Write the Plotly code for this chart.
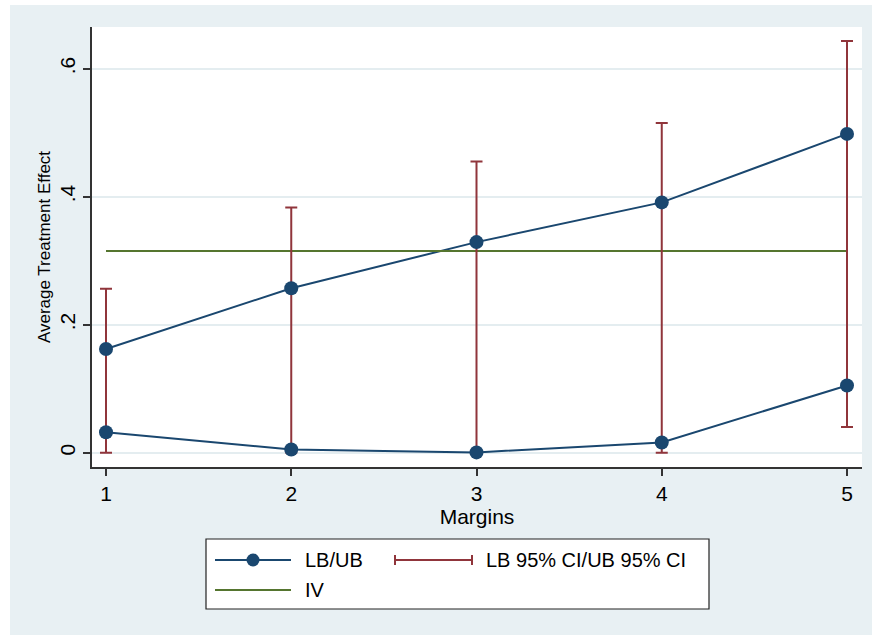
import plotly.graph_objects as go

# ---- data ----
margins = [1, 2, 3, 4, 5]
lb = [0.032, 0.005, 0.0005, 0.016, 0.105]
ub = [0.162, 0.257, 0.329, 0.391, 0.498]
ci_lo = [0.0, 0.0, 0.0, 0.0, 0.040]
ci_hi = [0.256, 0.383, 0.455, 0.515, 0.643]
iv_value = 0.315
y_tick_vals = [0, 0.2, 0.4, 0.6]
y_tick_text = ["0", ".2", ".4", ".6"]
x_tick_vals = [1, 2, 3, 4, 5]
legend_labels = ["LB/UB", "LB 95% CI/UB 95% CI", "IV"]

NAVY = "#1a476f"
MAROON = "#90353b"
GREEN = "#55752f"
BG = "#e8f0f3"
FONT = "Liberation Sans, Arial, sans-serif"

W, H = 872, 635
L, R, T, B = 92, 10, 27, 168
PW, PH = W - L - R, H - T - B


def px_x(px):
    return (px - L) / PW


def px_y(py):
    return (H - B - py) / PH


fig = go.Figure()

# LB / UB lines
for series in (ub, lb):
    fig.add_trace(go.Scatter(
        x=margins, y=series, mode="lines",
        line=dict(color=NAVY, width=2),
        showlegend=False, hoverinfo="skip"))

# IV horizontal line
fig.add_trace(go.Scatter(
    x=[margins[0], margins[-1]], y=[iv_value, iv_value], mode="lines",
    line=dict(color=GREEN, width=2), showlegend=False, hoverinfo="skip"))

# CI range caps
mid = [(a + b) / 2 for a, b in zip(ci_lo, ci_hi)]
half = [(b - a) / 2 for a, b in zip(ci_lo, ci_hi)]
fig.add_trace(go.Scatter(
    x=margins, y=mid, mode="markers",
    marker=dict(size=1, color="rgba(0,0,0,0)"),
    error_y=dict(type="data", array=half, symmetric=True,
                 color=MAROON, thickness=2, width=6),
    showlegend=False, hoverinfo="skip"))

# markers on top of CI lines
for series in (ub, lb):
    fig.add_trace(go.Scatter(
        x=margins, y=series, mode="markers",
        marker=dict(color=NAVY, size=14),
        showlegend=False, hoverinfo="skip"))

shapes = []
# white strips at top/left of the outer region
shapes.append(dict(type="rect", xref="paper", yref="paper",
                   x0=px_x(-5), x1=px_x(10), y0=px_y(-5), y1=px_y(H + 5),
                   fillcolor="white", line=dict(width=0), layer="below"))
shapes.append(dict(type="rect", xref="paper", yref="paper",
                   x0=px_x(-5), x1=px_x(W + 5), y0=px_y(5), y1=px_y(-5),
                   fillcolor="white", line=dict(width=0), layer="below"))

# manual legend
shapes.append(dict(type="rect", xref="paper", yref="paper",
                   x0=px_x(206), x1=px_x(709), y0=px_y(609), y1=px_y(539),
                   fillcolor="white", line=dict(color="#222222", width=1.2)))
r1, r2 = 560, 590
shapes.append(dict(type="line", xref="paper", yref="paper",
                   x0=px_x(215), x1=px_x(291), y0=px_y(r1), y1=px_y(r1),
                   line=dict(color=NAVY, width=2)))
shapes.append(dict(type="circle", xref="paper", yref="paper",
                   x0=px_x(246.5), x1=px_x(259.5), y0=px_y(r1 + 6.5), y1=px_y(r1 - 6.5),
                   fillcolor=NAVY, line=dict(color=NAVY, width=0)))
shapes.append(dict(type="line", xref="paper", yref="paper",
                   x0=px_x(394), x1=px_x(473), y0=px_y(r1), y1=px_y(r1),
                   line=dict(color=MAROON, width=2)))
for cx in (395, 472):
    shapes.append(dict(type="line", xref="paper", yref="paper",
                       x0=px_x(cx), x1=px_x(cx), y0=px_y(r1 - 5), y1=px_y(r1 + 5),
                       line=dict(color=MAROON, width=2)))
shapes.append(dict(type="line", xref="paper", yref="paper",
                   x0=px_x(215), x1=px_x(291), y0=px_y(r2), y1=px_y(r2),
                   line=dict(color=GREEN, width=2)))

annotations = []
for text, xpx, ypx in ((legend_labels[0], 303, r1), (legend_labels[1], 484, r1),
                       (legend_labels[2], 303, r2)):
    annotations.append(dict(text=text, xref="paper", yref="paper",
                            x=px_x(xpx), y=px_y(ypx), xanchor="left", yanchor="middle",
                            showarrow=False, font=dict(size=20, color="black", family=FONT)))

fig.update_layout(
    width=W, height=H,
    margin=dict(l=L, r=R, t=T, b=B, pad=0),
    paper_bgcolor=BG, plot_bgcolor="white",
    font=dict(family=FONT, color="black"),
    shapes=shapes, annotations=annotations,
    showlegend=False,
)

fig.update_xaxes(
    range=[1 - 14 / 185.25, 5 + 15 / 185.25],
    tickvals=x_tick_vals, ticktext=[str(v) for v in x_tick_vals],
    showgrid=False, zeroline=False,
    showline=True, linecolor="#333333", linewidth=1.5,
    ticks="outside", ticklen=7, tickwidth=1.5, tickcolor="#333333",
    tickfont=dict(size=21),
    title=dict(text="Margins", font=dict(size=21), standoff=5),
)
fig.update_yaxes(
    range=[-0.0223, 0.665],
    tickvals=y_tick_vals, ticktext=y_tick_text, tickangle=-90,
    showgrid=True, gridcolor="#e4edf0", gridwidth=1.5, zeroline=False,
    showline=True, linecolor="#333333", linewidth=1.5,
    ticks="outside", ticklen=7, tickwidth=1.5, tickcolor="#333333",
    tickfont=dict(size=21),
    title=dict(text="Average Treatment Effect", font=dict(size=17), standoff=1),
)

fig.write_html("out.html",
               config={"displayModeBar": False},
               post_script="document.body.style.margin='0';document.body.style.overflow='hidden';")
